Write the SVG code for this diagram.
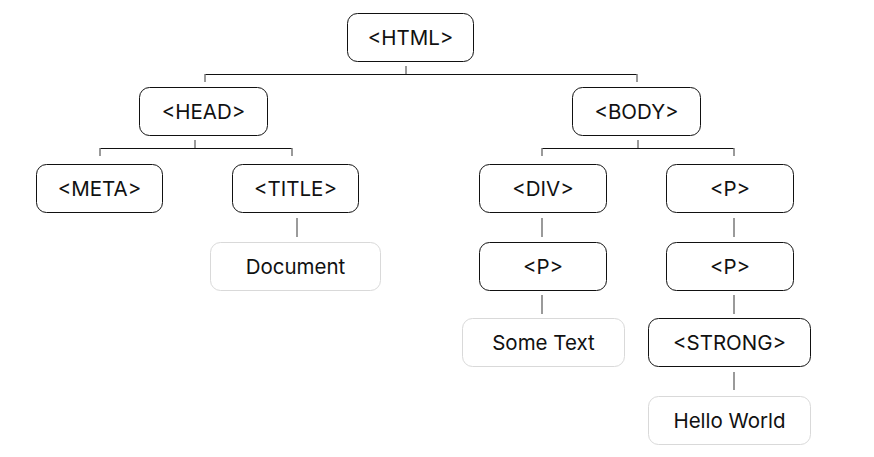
<svg xmlns="http://www.w3.org/2000/svg" width="874" height="457" viewBox="0 0 874 457">
<style>
.tag{fill:#fff;stroke:#111;stroke-width:1}
.txt{fill:#fff;stroke:#d9d9d9;stroke-width:1}
text{font-family:Inter,"Noto Sans","Liberation Sans",sans-serif;font-size:20.5px;fill:#111;text-anchor:middle;dominant-baseline:central}
.h{stroke:#111;stroke-width:1;fill:none}
.v{stroke:#7a7a7a;stroke-width:1.5;fill:none}
</style>
<rect width="874" height="457" fill="#fff"/>
<g id="connectors">
<path class="h" d="M205 74.5H637"/>
<path class="v" d="M406 66V74M205 74V82M637 74V82"/>
<path class="h" d="M100 148.5H292"/>
<path class="v" d="M195 140V148M100 148V156M292 148V156"/>
<path class="v" d="M297 218V237"/>
<path class="h" d="M542 148.5H734"/>
<path class="v" d="M638 140V148M542 148V156M734 148V156"/>
<path class="v" d="M542 218V237M542 295V314"/>
<path class="v" d="M734 218V237M734 295V314M734 372V390"/>
</g>
<g id="html"><rect class="tag" x="347.5" y="13.5" width="126" height="48" rx="10"/><text x="410.5" y="37.5">&lt;HTML&gt;</text></g>
<g id="head"><rect class="tag" x="139.5" y="87.5" width="128" height="48" rx="10"/><text x="203.5" y="111.5">&lt;HEAD&gt;</text></g>
<g id="body"><rect class="tag" x="572.5" y="87.5" width="128" height="48" rx="10"/><text x="636.5" y="111.5">&lt;BODY&gt;</text></g>
<g id="meta"><rect class="tag" x="36.5" y="164.5" width="126" height="48" rx="10"/><text x="99.5" y="188.5">&lt;META&gt;</text></g>
<g id="title"><rect class="tag" x="232.5" y="164.5" width="126" height="48" rx="10"/><text x="295.5" y="188.5">&lt;TITLE&gt;</text></g>
<g id="document"><rect class="txt" x="210.5" y="242.5" width="170" height="48" rx="10"/><text x="295.5" y="266.5">Document</text></g>
<g id="div"><rect class="tag" x="479.5" y="164.5" width="127" height="48" rx="10"/><text x="543" y="188.5">&lt;DIV&gt;</text></g>
<g id="p1"><rect class="tag" x="666.5" y="164.5" width="127" height="48" rx="10"/><text x="730" y="188.5">&lt;P&gt;</text></g>
<g id="div-p"><rect class="tag" x="479.5" y="242.5" width="127" height="48" rx="10"/><text x="543" y="266.5">&lt;P&gt;</text></g>
<g id="p2"><rect class="tag" x="666.5" y="242.5" width="127" height="48" rx="10"/><text x="730" y="266.5">&lt;P&gt;</text></g>
<g id="sometext"><rect class="txt" x="462.5" y="318.5" width="162" height="48" rx="10"/><text x="543.5" y="342.5">Some Text</text></g>
<g id="strong"><rect class="tag" x="648.5" y="318.5" width="162" height="48" rx="10"/><text x="729.5" y="342.5">&lt;STRONG&gt;</text></g>
<g id="hello"><rect class="txt" x="648.5" y="396.5" width="162" height="48" rx="10"/><text x="729.5" y="420.5">Hello World</text></g>
</svg>
